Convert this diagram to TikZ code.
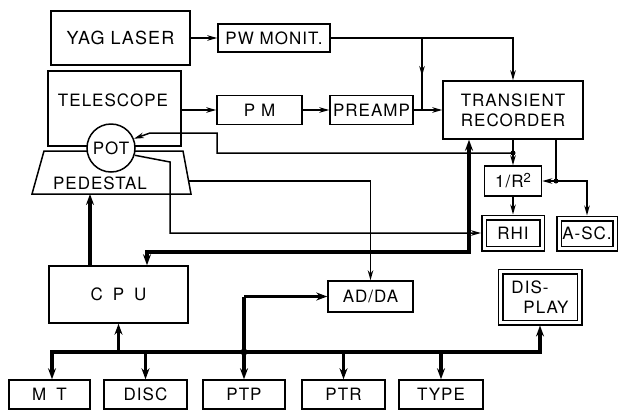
\documentclass[tikz,border=0pt]{standalone}
\usepackage{fontspec}
\setmainfont{TeX Gyre Heros}[LetterSpace=6.0]
\usetikzlibrary{arrows.meta,calc}
\newcommand{\boxfont}{\fontsize{17}{20}\selectfont}

\begin{document}
\begin{tikzpicture}[x=1pt, y=-1pt, line width=1.5pt,
    box/.style={draw, line width=1.5pt, fill=white, inner sep=0pt, font=\boxfont},
    dbox/.style={box, double, double distance=3pt, outer sep=3pt},
    sigto/.style={line width=1.5pt, -{Stealth[length=10pt,width=5.5pt]}},
    busto/.style={line width=3.2pt, -{Stealth[length=11pt,width=8pt]}},
    busboth/.style={line width=3.2pt, {Stealth[length=11pt,width=8pt]}-{Stealth[length=11pt,width=8pt]}}]
    \useasboundingbox (0,0) rectangle (618,410);

    % Laser and power monitor
    \node[box, minimum width=139pt, minimum height=54pt, font=\fontsize{18}{20}\selectfont] (yag) at (120.5,38) {YAG LASER};
    \node[box, minimum width=112pt, minimum height=28pt] (pwm) at (274,38) {PW MONIT.};

    % Telescope on its pedestal
    \node[box, minimum width=133pt, minimum height=75pt] (tele) at (114.5,108.5) {};
    \node[font=\boxfont] (teletxt) at (113,100) {TELESCOPE};
    \draw[line width=1.5pt, fill=white] (44,151) coordinate (pedtl) -- (183,151) coordinate (pedtr)
        -- (191,194) coordinate (pedbr) -- (32,194) coordinate (pedbl) -- cycle;
    \node[font=\boxfont] (pedtxt) at (100,183.5) {PEDESTAL};
    \node[box, circle, minimum size=48pt] (pot) at (111,148) {POT};

    % Receiver chain
    \node[box, minimum width=85pt, minimum height=29pt] (pm) at (259.5,110) {P\hspace{6pt}M};
    \node[box, minimum width=83pt, minimum height=29pt] (pre) at (371.5,110) {PREAMP};
    \node[box, minimum width=140pt, minimum height=58pt, align=center] (tr) at (513,110) {TRANSIENT\\RECORDER};
    \node[box, minimum width=57pt, minimum height=30pt] (rr) at (513,181) {1/R\raisebox{5pt}{\fontsize{13}{13}\selectfont 2}};
    \node[dbox, minimum width=58pt, minimum height=31pt] (rhi) at (513,233) {RHI};
    \node[dbox, minimum width=56pt, minimum height=30pt] (asc) at (587,233.5) {A-SC.};

    % Computer and peripherals
    \node[box, minimum width=139pt, minimum height=57pt] (cpu) at (118.5,294.5) {C\hspace{10pt}P\hspace{10pt}U};
    \node[box, minimum width=85pt, minimum height=31pt] (adda) at (370.5,296.5) {AD/DA};
    \node[dbox, minimum width=79pt, minimum height=51pt, align=left] (disp) at (540,297) {DIS-\\\hspace*{12pt}PLAY};
    \node[box, minimum width=81pt, minimum height=29pt] (mt) at (49.5,394.5) {M\hspace{10pt}T};
    \node[box, minimum width=83pt, minimum height=29pt] (disc) at (145.5,394.5) {DISC};
    \node[box, minimum width=82pt, minimum height=29pt] (ptp) at (244,394.5) {PTP};
    \node[box, minimum width=83pt, minimum height=29pt] (ptr) at (343.5,394.5) {PTR};
    \node[box, minimum width=84pt, minimum height=29pt] (type) at (441,394.5) {TYPE};

    % Signal lines
    \draw[sigto] (yag) -- (pwm);
    \draw[sigto] (pwm.east) -| (tr.north);
    \coordinate (trig) at (422,38);
    \draw[line width=1.5pt] (trig) -- (trig |- pre.east);
    \draw[sigto] (trig) -- ++(0,38);
    \draw[sigto] (tele.east |- pm.west) -- (pm.west);
    \draw[sigto] (pm) -- (pre);
    \draw[sigto] (pre) -- (tr);
    \draw[sigto] (tr.south) -- (rr.north);
    \coordinate (potfb) at (513,153);
    \draw[sigto] (potfb) -- (217,153) |- (150,133) -- (pot.22);
    \fill (potfb) circle (2.5pt);
    \coordinate (ascj) at (556,181);
    \draw[sigto] (tr.south -| ascj) -- (ascj) -- (rr.east);
    \draw[sigto] (ascj) -| (asc.north);
    \fill (ascj) circle (2.5pt);
    \draw[sigto] (rr) -- (rhi);
    \draw[sigto] (pot.-17) -- (170,162) |- (rhi.west);
    \draw[sigto] ($(pedbr)!0.3!(pedtr)$) -| (adda.north);

    % Data bus
    \draw[busto] (90,0 |- cpu.north) -- (90,0 |- pedbl);
    \draw[busboth] (147,0 |- cpu.north) |- (469,252) -- (469,0 |- tr.south);
    \coordinate (bus) at (52,352);
    \draw[busboth] (bus |- mt.north) -- (bus) -| (disp.south);
    \draw[busto] (bus -| cpu.south) -- (cpu.south);
    \foreach \dev in {disc, ptr, type}
        \draw[busto] (bus -| \dev.north) -- (\dev.north);
    \draw[busto] (ptp.north |- adda.west) -- (ptp.north);
    \draw[busto] (ptp.north |- adda.west) -- (adda.west);
    \fill (bus -| ptp.north) circle (3.5pt);
\end{tikzpicture}
\end{document}
